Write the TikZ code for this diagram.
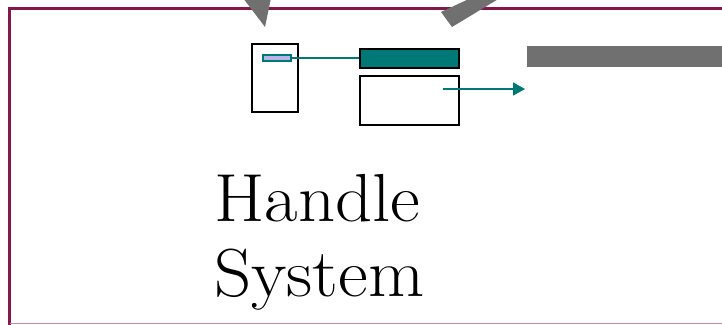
\documentclass[tikz,border=0pt]{standalone}
\usetikzlibrary{arrows.meta}
\definecolor{frame}{RGB}{132,24,74}
\definecolor{grayarr}{RGB}{112,112,112}
\definecolor{teal2}{RGB}{0,120,118}
\definecolor{lav}{RGB}{184,180,232}
\tikzset{
  box/.style={draw=black, line width=2pt, fill=white},
  tealline/.style={draw=teal2, line width=1.8pt},
  grayshape/.style={fill=grayarr, draw=none},
  lbl/.style={font=\fontsize{68}{75}\selectfont, align=left, anchor=base west, inner sep=0pt, xscale=1.07}
}
\begin{document}
\begin{tikzpicture}[x=1pt,y=-1pt]
\useasboundingbox (0,0) rectangle (722,324);
\clip (0,0) rectangle (722,324);
% frame
\draw[frame, line width=2.5pt] (9.5,330) -- (9.5,8.5) -- (740,8.5);
\draw[frame!50, line width=1pt] (9.5,323.5) -- (740,323.5);
% gray shapes
\fill[grayshape] (243,-2) -- (265,27) -- (271,-2) -- cycle;
\fill[grayshape] (441,12) -- (452,27) -- (500,-2) -- (471,-2) -- cycle;
\fill[grayshape] (527,46) rectangle (730,67);
% boxes
\node[box, minimum width=46pt, minimum height=68pt, inner sep=0pt] (left) at (275,78) {};
\node[draw=teal2, line width=1.5pt, fill=lav, minimum width=28pt, minimum height=6pt, inner sep=0pt] (small) at (277,58) {};
\node[box, fill=teal2, minimum width=99pt, minimum height=19pt, inner sep=0pt] (top) at (409.5,58.5) {};
\node[box, minimum width=99pt, minimum height=49pt, inner sep=0pt] (bot) at (409.5,100.5) {};
\draw[tealline] (small.east) -- (small.east -| top.west);
\coordinate (arrS) at (443,89);
\coordinate (arrE) at (525,89);
\draw[tealline, -{Triangle[length=12pt,width=13pt]}] (arrS) -- (arrE);
% text
\node[lbl] (txt1) at (214,221) {Handle};
\node[lbl] (txt2) at (214,296) {System};
\end{tikzpicture}
\end{document}
